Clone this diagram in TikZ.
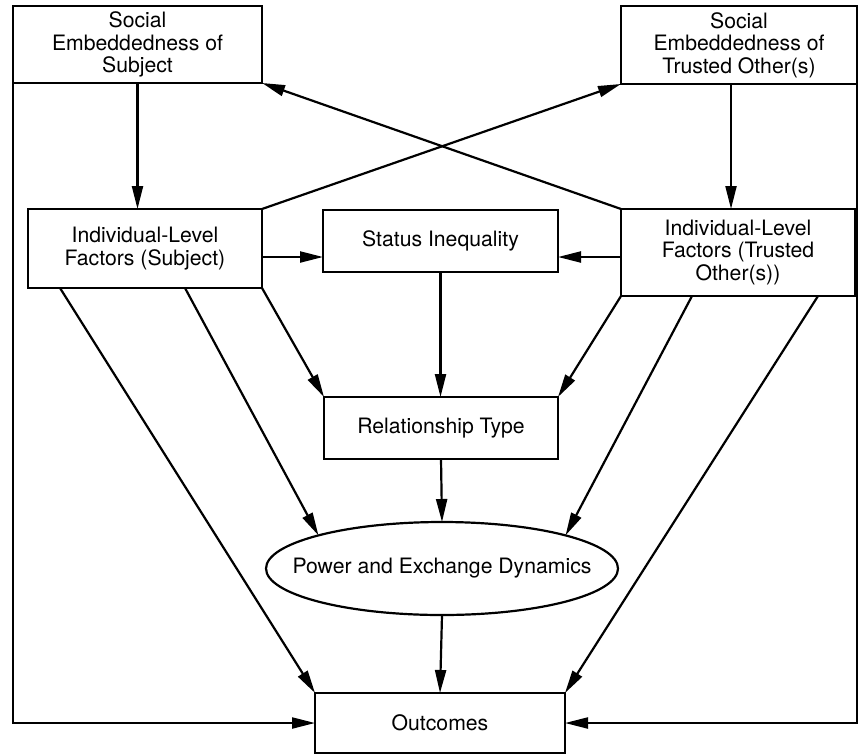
\documentclass[tikz,border=0pt]{standalone}
\usepackage{fontspec}
\setmainfont{TeX Gyre Heros}
\usetikzlibrary{shapes,arrows.meta,calc}

\begin{document}
\begin{tikzpicture}[x=0.5pt,y=-0.5pt,line width=1.1pt,
  font=\fontsize{10.6}{11.25}\selectfont,
  block/.style={draw,rectangle,align=center,outer sep=0pt,inner sep=2pt},
  oval/.style={draw,ellipse,outer sep=0pt,inner sep=0pt},
  arr/.style={-{Triangle[length=11.5pt,width=5.5pt]}}]

  \useasboundingbox (0,0) rectangle (860,755);

        \node[block,minimum width=124.5pt,minimum height=38.5pt] (SS) at (137.5,44.5) {Social\\Embeddedness of\\Subject};
        \node[block,minimum width=118pt,minimum height=39pt] (ST) at (739,45) {Social\\Embeddedness of\\Trusted Other(s)};
        \node[block,minimum width=117pt,minimum height=39.5pt] (IS) at (145,248.5) {Individual-Level\\Factors (Subject)};
        \node[block,minimum width=117.5pt,minimum height=31pt] (SI) at (440.5,241) {Status Inequality};
        \node[block,minimum width=117pt,minimum height=43.5pt] (IT) at (738,252.5) {Individual-Level\\Factors (Trusted\\Other(s))};
        \node[block,minimum width=117pt,minimum height=31pt] (RT) at (441,428) {Relationship Type};
        \node[oval,minimum width=176pt,minimum height=46.5pt] (PE) at (442,568.5) {\makebox[0pt]{Power and Exchange Dynamics}};
        \node[block,minimum width=125pt,minimum height=30pt] (OC) at (440,723) {Outcomes};

        % embeddedness down to the individual level
        \coordinate (st1) at ([xshift=-4pt]ST.south);
        \draw[arr] (SS.south) -- (SS.south |- IS.north);
        \draw[arr] (st1) -- (st1 |- IT.north);
        \draw[arr] (IS.north east) -- (ST.south west);
        \draw[arr] (IT.north west) -- (SS.south east);

        \coordinate (lv) at (0,257);
        \draw[arr] (IS.east |- lv) -- (SI.west |- lv);
        \draw[arr] (IT.west |- lv) -- (SI.east |- lv);
        \draw[arr] (SI.south) -- (SI.south |- RT.north);
        \draw[arr] (IS.south east) -- (RT.north west);
        \draw[arr] (IT.south west) -- (RT.north east);
        \draw[arr] (RT.south) -- (PE.north);
        \draw[arr] ([xshift=78.5pt]IS.south west) -- (PE.165);
        \draw[arr] ([xshift=35.5pt]IT.south west) -- (PE.15);

        % everything into outcomes
        \draw[arr] ([xshift=16pt]IS.south west) -- (OC.north west);
        \draw[arr] ([xshift=-18.5pt]IT.south east) -- (OC.north east);
        \draw[arr] (PE.south) -- (OC.north);
        \draw[arr] (SS.south west) |- (OC.west);
        \draw[arr] (ST.south east) |- (OC.east);
      \end{tikzpicture}
\end{document}
